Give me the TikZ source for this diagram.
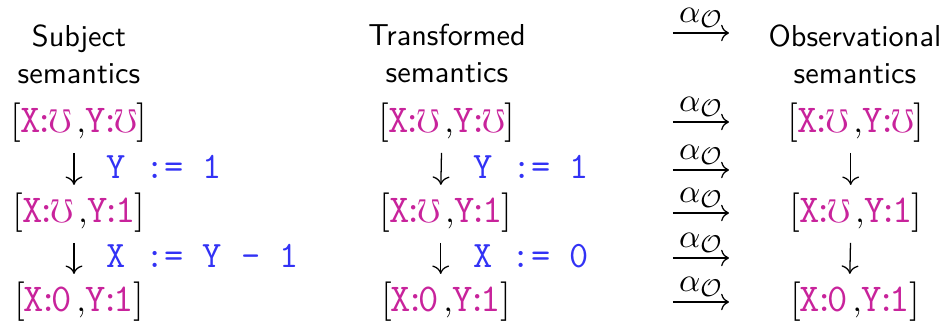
\documentclass[tikz,border=0pt]{standalone}
\usepackage{amssymb}
\usetikzlibrary{arrows.meta, positioning, calc}

\definecolor{varpink}{RGB}{200,35,155}
\definecolor{cmdblue}{RGB}{50,50,245}

\newcommand{\pv}[1]{\textcolor{varpink}{\fontsize{13}{15}\selectfont\ttfamily #1}}
\newcommand{\um}{\textcolor{varpink}{$\mho$}}
\newcommand{\bkt}[1]{{\fontsize{13}{15}\selectfont#1}}
\newcommand{\envst}[2]{\bkt{[}\kern-0.3pt\pv{X}\kern-2pt\pv{:}\kern-2.2pt#1\kern1.5pt,\pv{Y}\kern-2pt\pv{:}\kern-2.2pt#2\kern-0.3pt\bkt{]}}

\begin{document}
\begin{tikzpicture}[
    x = 0.33pt, y = -0.33pt,
    every node/.style = {inner sep=0pt},
    head/.style = {
        align=center, anchor=north,
        font=\fontsize{10}{12.2}\selectfont\sffamily
    },
    envir/.style = {anchor=base, font=\fontsize{10.95}{14}\selectfont},
    cmd/.style = {
        anchor=base west, xshift=10.6pt, yshift=-3.3pt,
        text=cmdblue, font=\fontsize{12.3}{14}\selectfont\ttfamily
    },
    dn/.style = {
        -{To[length=2.8pt,width=5.6pt]}, line width=0.42pt,
        shorten <=3.1pt, shorten >=2.6pt
    },
    obsarr/.style = {-{To[length=2.6pt,width=5.4pt]}, line width=0.42pt},
    alab/.style = {anchor=base, yshift=3.6pt, font=\fontsize{10.95}{13}\selectfont}
]
\useasboundingbox (0,0) rectangle (946,321);

%% Column headers
\node[head] (subj)  at (79,24)  {Subject\\semantics};
\node[head] (trans) at (447,24) {Transformed\\semantics};
\node[head] (obs)   at (855,24) {Observational\\semantics};

%% Subject semantics
\node[envir] (s1) at (79,133) {\envst{\um}{\um}};
\node[envir] (s2) at (79,223) {\envst{\um}{\pv{1}}};
\node[envir] (s3) at (79,312) {\envst{\pv{0}}{\pv{1}}};

%% Transformed semantics
\node[envir] (t1) at (447,133) {\envst{\um}{\um}};
\node[envir] (t2) at (446,223) {\envst{\um}{\pv{1}}};
\node[envir] (t3) at (446,312) {\envst{\pv{0}}{\pv{1}}};

%% Observational semantics
\node[envir] (o1) at (856,133) {\envst{\um}{\um}};
\node[envir] (o2) at (856,223) {\envst{\um}{\pv{1}}};
\node[envir] (o3) at (855,312) {\envst{\pv{0}}{\pv{1}}};

%% Steps
\draw[dn] ([xshift=-1.65pt]s1.south) -- ([xshift=-1.65pt]s2.north)
    node[cmd, midway] {Y := 1};
\draw[dn] ([xshift=-1.65pt]s2.south) -- ([xshift=-1.65pt]s3.north)
    node[cmd, midway] {X := Y - 1};
\draw[dn] ([xshift=-1.75pt]t1.south) -- ([xshift=-1.75pt]t2.north)
    node[cmd, midway] {Y := 1};
\draw[dn] ([xshift=-1.75pt]t2.south) -- ([xshift=-1.75pt]t3.north)
    node[cmd, midway] {X := 0};
\draw[dn] ([xshift=-1.75pt]o1.south) -- ([xshift=-1.75pt]o2.north);
\draw[dn] ([xshift=-1.75pt]o2.south) -- ([xshift=-1.75pt]o3.north);

%% Abstraction arrows
\coordinate (aw1) at (673,33);  \coordinate (ae1) at (729,33);
\coordinate (aw2) at (673,122); \coordinate (ae2) at (729,122);
\coordinate (aw3) at (673,170); \coordinate (ae3) at (729,170);
\coordinate (aw4) at (673,213); \coordinate (ae4) at (729,213);
\coordinate (aw5) at (673,258); \coordinate (ae5) at (729,258);
\coordinate (aw6) at (673,302); \coordinate (ae6) at (729,302);

\draw[obsarr] (aw1) -- (ae1) node[alab, midway] {$\alpha_{\mathcal{O}}$};
\draw[obsarr] (aw2) -- (ae2) node[alab, midway] {$\alpha_{\mathcal{O}}$};
\draw[obsarr] (aw3) -- (ae3) node[alab, midway] {$\alpha_{\mathcal{O}}$};
\draw[obsarr] (aw4) -- (ae4) node[alab, midway] {$\alpha_{\mathcal{O}}$};
\draw[obsarr] (aw5) -- (ae5) node[alab, midway] {$\alpha_{\mathcal{O}}$};
\draw[obsarr] (aw6) -- (ae6) node[alab, midway] {$\alpha_{\mathcal{O}}$};

\end{tikzpicture}
\end{document}
